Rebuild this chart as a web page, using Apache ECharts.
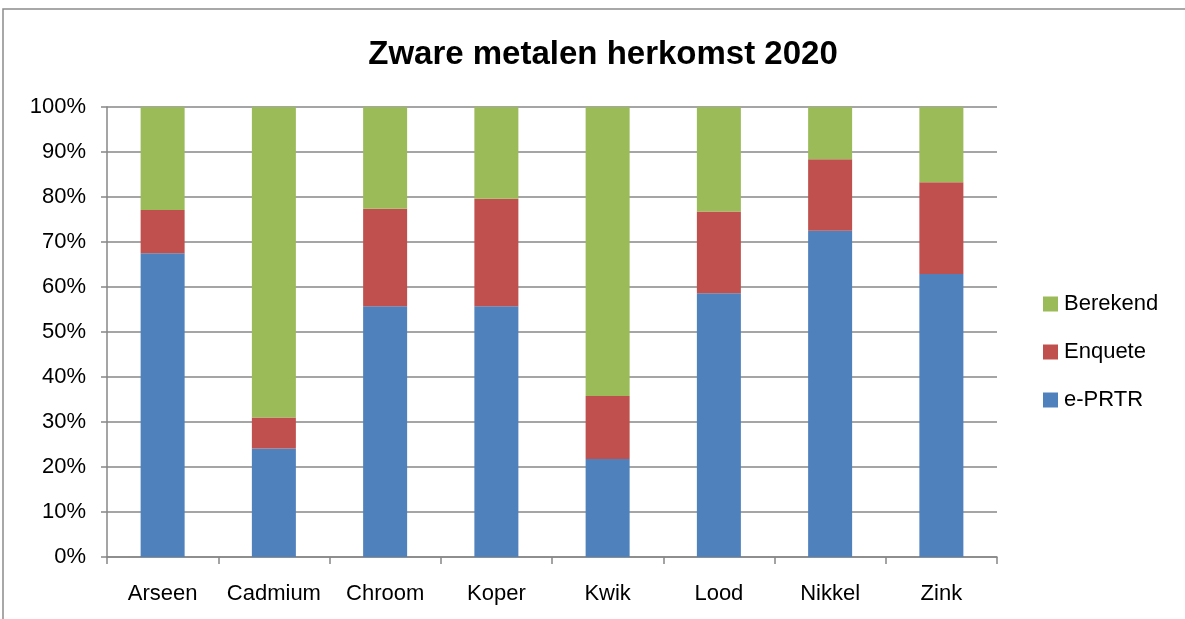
<!DOCTYPE html>
<html>
<head>
<meta charset="utf-8">
<script src="https://cdn.jsdelivr.net/npm/echarts@6/dist/echarts.min.js"></script>
<style>html,body{margin:0;padding:0;background:#fff;}#c{width:1185px;height:619px;}</style>
</head>
<body>
<div id="c"></div>
<script>
var categories = ['Arseen', 'Cadmium', 'Chroom', 'Koper', 'Kwik', 'Lood', 'Nikkel', 'Zink'];
var ePRTR = [67.5, 24.1, 55.7, 55.7, 21.8, 58.6, 72.5, 62.9];
var enquete = [9.6, 6.9, 21.7, 23.9, 14.0, 18.2, 15.9, 20.4];
var berekend = [22.9, 69.0, 22.6, 20.4, 64.2, 23.2, 11.6, 16.7];

var font = 'Liberation Sans, sans-serif';
var chart = echarts.init(document.getElementById('c'));
chart.setOption({
  animation: false,
  backgroundColor: '#fff',
  graphic: [{
    type: 'rect', shape: {x: 3, y: 9, width: 1200, height: 640},
    style: {fill: 'none', stroke: '#8c8c8c', lineWidth: 1.5}, silent: true
  }],
  title: {
    text: 'Zware metalen herkomst 2020', left: 598, top: 33, textAlign: 'center',
    textStyle: {fontFamily: font, fontWeight: 'bold', fontSize: 33, color: '#000'}
  },
  legend: {
    orient: 'vertical', left: 1038, top: 288, itemGap: 26, itemWidth: 15, itemHeight: 15,
    icon: 'rect',
    data: ['Berekend', 'Enquete', 'e-PRTR'],
    textStyle: {fontFamily: font, fontSize: 22, color: '#000', padding: [0, 0, 0, 1]}
  },
  grid: {left: 107, right: 188, top: 107, bottom: 62},
  xAxis: {
    type: 'category', data: categories,
    axisLine: {lineStyle: {color: '#878787', width: 1.5}},
    axisTick: {show: true, interval: 0, length: 7, lineStyle: {color: '#878787', width: 1.5}},
    axisLabel: {interval: 0, fontFamily: font, fontSize: 22, color: '#000', margin: 26}
  },
  yAxis: {
    type: 'value', min: 0, max: 100, interval: 10,
    axisLine: {show: true, lineStyle: {color: '#878787', width: 1.5}},
    axisTick: {show: true, length: 6, lineStyle: {color: '#878787', width: 1.5}},
    axisLabel: {formatter: '{value}%', fontFamily: font, fontSize: 22, color: '#000', margin: 21},
    splitLine: {lineStyle: {color: '#878787', width: 1.5}}
  },
  series: [
    {name: 'e-PRTR', type: 'bar', stack: 't', data: ePRTR, barWidth: 44, itemStyle: {color: '#4F81BD'}},
    {name: 'Enquete', type: 'bar', stack: 't', data: enquete, barWidth: 44, itemStyle: {color: '#C0504D'}},
    {name: 'Berekend', type: 'bar', stack: 't', data: berekend, barWidth: 44, itemStyle: {color: '#9BBB59'}}
  ]
});
</script>
</body>
</html>
